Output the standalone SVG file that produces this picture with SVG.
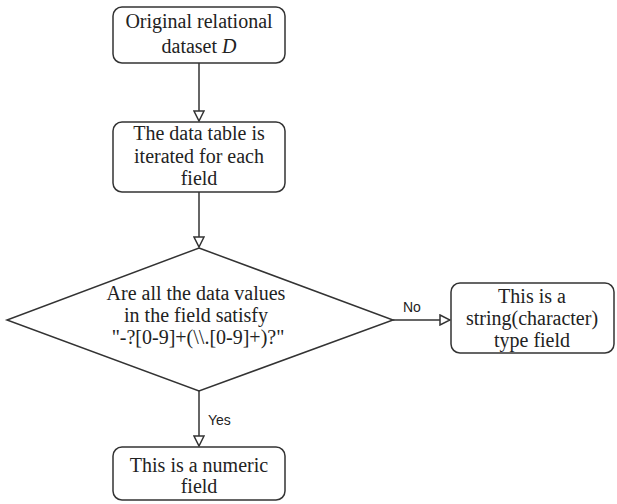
<svg xmlns="http://www.w3.org/2000/svg" width="617" height="504" viewBox="0 0 617 504">
<defs>
<style>
.box{fill:#fff;stroke:#333;stroke-width:1.5}
.c{fill:none;stroke:#333;stroke-width:1.5}
</style>
<marker id="ah" viewBox="0 0 12 12" refX="11" refY="6" markerWidth="12" markerHeight="12" markerUnits="userSpaceOnUse" orient="auto">
<path d="M1,1 L11,6 L1,11 Z" fill="#fff" stroke="#333" stroke-width="1.5"/>
</marker>
</defs>
<rect width="617" height="504" fill="#fff"/>
<g id="connectors">
<line class="c" x1="199" y1="63" x2="199" y2="121" marker-end="url(#ah)"/>
<line class="c" x1="199" y1="192" x2="199" y2="247" marker-end="url(#ah)"/>
<line class="c" x1="393" y1="320" x2="450" y2="320" marker-end="url(#ah)"/>
<text x="403" y="312" font-family="Liberation Sans, Arial, sans-serif" font-size="14" fill="#222">No</text>
<line class="c" x1="199" y1="390" x2="199" y2="446" marker-end="url(#ah)"/>
<text x="208" y="425" font-family="Liberation Sans, Arial, sans-serif" font-size="14" fill="#222">Yes</text>
</g>
<g font-family="Liberation Serif, Times New Roman, serif" font-size="20" fill="#222" text-anchor="middle">
<g id="n1">
<rect class="box" x="113" y="7" width="172" height="56" rx="9"/>
<text x="199" y="28">Original relational</text>
<text x="199" y="53">dataset <tspan font-style="italic">D</tspan></text>
</g>
<g id="n2">
<rect class="box" x="113" y="122" width="172" height="70" rx="9"/>
<text x="199" y="140">The data table is</text>
<text x="199" y="163">iterated for each</text>
<text x="199" y="185">field</text>
</g>
<g id="n3">
<polygon class="box" points="199,248 393,320 199,391 7,320"/>
<text x="196" y="300">Are all the data values</text>
<text x="196" y="322">in the field satisfy</text>
<text x="198" y="344">"-?[0-9]+(\\.[0-9]+)?"</text>
</g>
<g id="n4">
<rect class="box" x="451" y="283" width="163" height="70" rx="9"/>
<text x="532" y="303">This is a</text>
<text x="532" y="325">string(character)</text>
<text x="532" y="347">type field</text>
</g>
<g id="n5">
<rect class="box" x="113" y="447" width="172" height="53" rx="9"/>
<text x="199" y="472">This is a numeric</text>
<text x="199" y="493">field</text>
</g>
</g>
</svg>
